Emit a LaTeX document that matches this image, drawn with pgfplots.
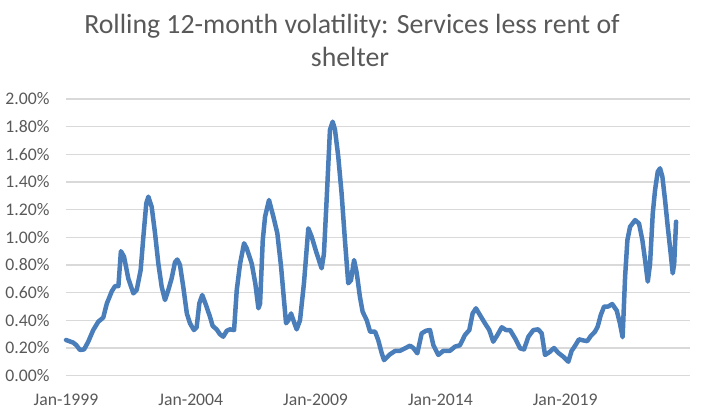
\documentclass[border=0pt]{standalone}
\usepackage{fontspec}
\setmainfont{Carlito}
\usepackage{pgfplots}
\pgfplotsset{compat=1.18}
\definecolor{txtgray}{HTML}{595959}
\definecolor{gridgray}{HTML}{D9D9D9}
\definecolor{lineblue}{HTML}{4A7EBB}
\begin{document}
\begin{tikzpicture}
\path[use as bounding box] (-66bp,-37.3bp) rectangle (640bp,375.7bp);
\begin{axis}[
  at={(0,0)}, anchor=south west,
  scale only axis, width=624bp, height=276.7bp,
  xmin=0, xmax=300, ymin=0, ymax=2,
  ytick={0,0.2,0.4,0.6,0.8,1.0,1.2,1.4,1.6,1.8,2.0},
  xtick={0,60,120,180,240},
  xticklabels={Jan-1999,Jan-2004,Jan-2009,Jan-2014,Jan-2019},
  ymajorgrids,
  grid style={color=gridgray, line width=1.4bp},
  axis line style={draw=none},
  major tick length=0pt,
  /pgf/number format/assume math mode=true,
  yticklabel={\pgfmathprintnumber[fixed,fixed zerofill,precision=2]{\tick}\%},
  ticklabel style={font=\fontsize{17.7bp}{20bp}\selectfont, text=txtgray},
  yticklabel style={anchor=east, xshift=-13bp},
  xticklabel style={anchor=base, yshift=-29.5bp},
  clip=false,
]
\addplot[lineblue, line width=4.5bp, line join=round, line cap=round] coordinates {
(0,0.258) (3.5,0.239) (5,0.22) (6.7,0.186) (8.7,0.19) (10.7,0.246) (13.1,0.33) (15.5,0.39) (17.9,0.42) (19.6,0.52)
(22,0.61) (23.6,0.648) (25.2,0.648) (26.4,0.90) (27.9,0.86) (30,0.70) (32.4,0.595) (34,0.62) (35.9,0.764) (37.2,1.005)
(38.6,1.246) (39.6,1.294) (41.2,1.22) (42.8,1.03) (44.4,0.81) (46,0.643) (47.6,0.547) (49.2,0.62) (50.8,0.704) (52.4,0.82)
(53.5,0.84) (54.8,0.80) (56.4,0.64) (58.1,0.45) (59.6,0.379) (61.5,0.33) (62.8,0.35) (64.1,0.523) (65.5,0.583) (67.3,0.511)
(69.2,0.427) (70.5,0.36) (72.4,0.335) (74,0.30) (75.6,0.282) (77.3,0.325) (78.8,0.335) (80.8,0.33) (82.1,0.62) (83.7,0.81)
(85.6,0.957) (86.9,0.92) (89.3,0.81) (91,0.668) (92.5,0.487) (93.3,0.52) (94.6,0.98) (95.7,1.149) (97.6,1.27) (99.7,1.149)
(101.6,1.03) (103.4,0.788) (104.8,0.547) (105.8,0.379) (106.9,0.40) (108.2,0.45) (109.8,0.38) (110.9,0.335) (112.5,0.40) (114.4,0.668)
(116.5,1.065) (118.1,1.005) (120.5,0.885) (122.9,0.776) (124,0.88) (125.3,1.27) (126.9,1.776) (128.2,1.836) (129.3,1.78) (130.9,1.583)
(132.5,1.318) (134.1,0.98) (135.7,0.668) (137,0.69) (138.5,0.836) (139.8,0.74) (141.3,0.571) (142.6,0.463) (144.6,0.40) (146.2,0.318)
(148.6,0.318) (150.1,0.258) (151.8,0.162) (152.9,0.113) (155.8,0.155) (158.2,0.179) (160.6,0.18) (163,0.198) (165.4,0.217) (167,0.20)
(168.9,0.162) (171,0.306) (173.1,0.325) (175,0.33) (176.6,0.222) (179,0.15) (181.4,0.18) (184.6,0.18) (187,0.21) (189.4,0.22)
(191.8,0.294) (193.9,0.33) (195.5,0.45) (197.1,0.487) (199,0.439) (201.4,0.379) (203.5,0.33) (205.4,0.246) (207.4,0.294) (209.5,0.35)
(211.5,0.33) (213.5,0.33) (215.9,0.27) (218.3,0.198) (220.2,0.19) (222.3,0.282) (224.7,0.33) (227,0.335) (228.7,0.306) (230.3,0.15)
(232.4,0.17) (234.6,0.20) (236.7,0.165) (239.1,0.137) (241.5,0.101) (243.1,0.18) (244.7,0.215) (246.6,0.263) (248.7,0.255) (250.6,0.25)
(252.3,0.287) (254.3,0.318) (255.6,0.354) (257.1,0.439) (258.7,0.50) (260.7,0.50) (262.6,0.518) (264.8,0.47) (266.3,0.379) (267.6,0.278)
(268.8,0.716) (269.9,0.98) (271.2,1.077) (273.6,1.125) (275.5,1.10) (277.1,0.98) (278.4,0.836) (279.7,0.68) (280.8,0.81) (282.1,1.174)
(283.2,1.342) (284.5,1.475) (285.6,1.499) (286.7,1.44) (288,1.27) (289.3,1.077) (290.7,0.885) (291.7,0.74) (292.4,0.81) (293.3,1.113)
};
\end{axis}
\node[anchor=base, text=txtgray, font=\fontsize{27.8bp}{32bp}\selectfont] at (286bp,342.4bp) {Rolling 12-month volatility: Services less rent of};
\node[anchor=base, text=txtgray, font=\fontsize{27.8bp}{32bp}\selectfont] at (284bp,308.7bp) {shelter};
\end{tikzpicture}
\end{document}
